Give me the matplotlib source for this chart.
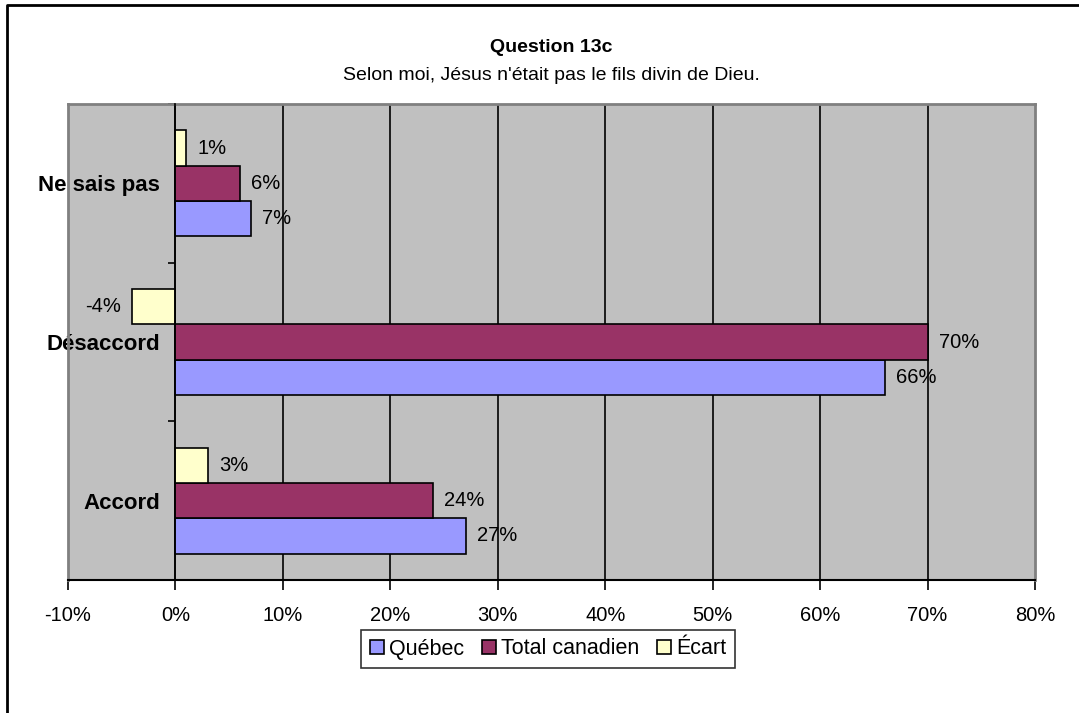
import matplotlib.pyplot as plt
from matplotlib.lines import Line2D

plt.rcParams['font.family'] = ['Liberation Sans', 'DejaVu Sans']

categories = ["Accord", "Désaccord", "Ne sais pas"]
series_names = ["Québec", "Total canadien", "Écart"]
quebec = [27, 66, 7]
canada = [24, 70, 6]
ecart = [3, -4, 1]
x_ticks = [-10, 0, 10, 20, 30, 40, 50, 60, 70, 80]
x_tick_labels = ["-10%", "0%", "10%", "20%", "30%", "40%", "50%", "60%", "70%", "80%"]

colors = ["#9999FF", "#993366", "#FFFFCC"]

W, H = 1079, 713
fig = plt.figure(figsize=(W / 100, H / 100), dpi=100)
fig.patch.set_facecolor("white")

# plot area in pixels
left, right, top, bottom = 68, 1035, 104, 580
ax = fig.add_axes([left / W, 1 - bottom / H, (right - left) / W, (bottom - top) / H])
ax.set_facecolor("#C0C0C0")
ax.set_xlim(-10, 80)
ax.set_ylim(-0.5, 2.5)

# vertical gridlines
for v in x_ticks[1:-1]:
    ax.axvline(v, color="black", lw=1.2, zorder=1)

h = 0.222
ypos = range(len(categories))
for k, (vals, name) in enumerate(zip([quebec, canada, ecart], series_names)):
    offs = (k - 1) * h
    ys = [y + offs for y in ypos]
    ax.barh(ys, vals, height=h, color=colors[k], edgecolor="black",
            linewidth=1.2, label=name, zorder=3)
    for y, v in zip(ys, vals):
        if v >= 0:
            ax.annotate(f"{v}%", (v, y), xytext=(8, 0), textcoords="offset points",
                        ha="left", va="center", fontsize=14.5, zorder=5)
        else:
            ax.annotate(f"{v}%", (v, y), xytext=(-8, 0), textcoords="offset points",
                        ha="right", va="center", fontsize=14.5, zorder=5)

# spines: category axis crosses at 0
for s in ["top", "right"]:
    ax.spines[s].set_visible(False)
ax.spines["left"].set_position(("data", 0))
ax.spines["left"].set_color("black")
ax.spines["left"].set_linewidth(1.2)
ax.spines["left"].set_zorder(4)
ax.spines["bottom"].set_color("black")
ax.spines["bottom"].set_linewidth(1.5)

# gray border of plot area
for xs, ys_ in [([0, 0], [0, 1]), ([0, 1], [1, 1]), ([1, 1], [0, 1])]:
    ax.add_line(Line2D(xs, ys_, transform=ax.transAxes, color="#808080",
                       lw=2, clip_on=False, zorder=2))

ax.set_xticks(x_ticks)
ax.set_xticklabels(x_tick_labels, fontsize=14.5)
ax.tick_params(axis="x", direction="out", length=7, width=1.2, pad=12)

ax.set_yticks(list(ypos))
ax.set_yticklabels(categories, fontsize=16, fontweight="bold")
ax.set_yticks([0.5, 1.5, 2.5], minor=True)
ax.tick_params(axis="y", which="major", length=0, pad=11)
ax.tick_params(axis="y", which="minor", length=5, width=1.2, direction="out")

fig.text((left + right) / 2 / W, 1 - 48 / H, "Question 13c", ha="center", va="center",
         fontsize=14, fontweight="bold")
fig.text((left + right) / 2 / W, 1 - 75 / H,
         "Selon moi, Jésus n'était pas le fils divin de Dieu.",
         ha="center", va="center", fontsize=14)

leg = fig.legend(loc="center", bbox_to_anchor=(548 / W, 1 - 649 / H), ncol=3,
                 fontsize=15.5, frameon=True, fancybox=False, handlelength=0.65,
                 handleheight=0.65, handletextpad=0.25, columnspacing=0.8,
                 borderpad=0.4, borderaxespad=0.2)
leg.get_frame().set_edgecolor("black")
leg.get_frame().set_linewidth(1.2)

# outer chart frame (left and top edges)
fig.add_artist(Line2D([7 / W, 7 / W, 1.0], [0.0, 1 - 5 / H, 1 - 5 / H],
                      transform=fig.transFigure, color="black", lw=2))

fig.savefig("out.png", dpi=100)
